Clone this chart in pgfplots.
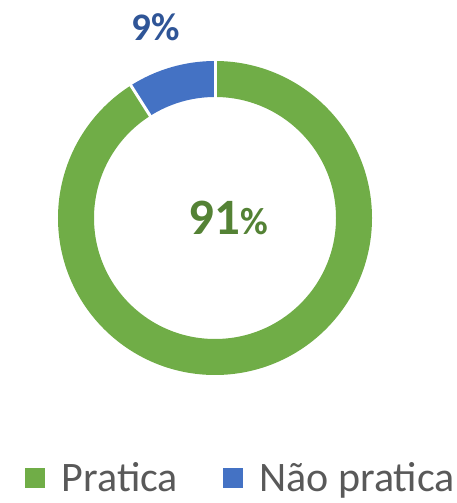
\documentclass[border=0pt]{standalone}
\usepackage{pgfplots}
\pgfplotsset{compat=1.18}
\usepackage{pgfplotstable}
\usepackage{fontspec}
\setmainfont{Carlito}
\definecolor{cgreen}{HTML}{70AD47}
\definecolor{cblue}{HTML}{4472C4}
\definecolor{dgreen}{HTML}{548235}
\definecolor{dblue}{HTML}{2F5597}
\definecolor{lgray}{HTML}{595959}
\pgfplotstableread{
label value
Pratica 91
NaoPratica 9
}\datatable
\pgfplotstablegetelem{0}{value}\of\datatable
\let\vP\pgfplotsretval
\pgfplotstablegetelem{1}{value}\of\datatable
\let\vN\pgfplotsretval
\begin{document}
\begin{tikzpicture}
\begin{axis}[
  scale only axis, width=457bp, height=503bp,
  xmin=0, xmax=457, ymin=0, ymax=503,
  hide axis, clip=false,
  legend columns=2,
  legend style={draw=none, fill=none, at={(axis cs:241,25)}, anchor=center,
    font=\fontsize{42bp}{44bp}\selectfont, text=lgray,
    /tikz/every odd column/.append style={column sep=15bp},
    /tikz/every even column/.append style={column sep=43bp},
    inner sep=0pt},
  legend image code/.code={\fill[#1] (0bp,-9.5bp) rectangle (19bp,9.5bp);},
]
\path (axis cs:0,0) rectangle (axis cs:457,503);
\pgfmathsetmacro\aP{\vP/100*360}
\pgfmathsetmacro\aN{\vN/100*360}
% Pratica slice (clockwise from top)
\draw[cgreen, line width=36bp] (axis cs:215,424) arc[start angle=90, end angle={90-\aP}, radius=139];
% Nao pratica slice
\pgfmathsetmacro\sx{215+139*cos(90-\aP)}
\pgfmathsetmacro\sy{285+139*sin(90-\aP)}
\draw[cblue, line width=36bp] (axis cs:\sx,\sy) arc[start angle={90-\aP}, end angle={90-\aP-\aN}, radius=139];
% separators
\pgfmathsetmacro\ix{215+119*cos(90-\aP)}
\pgfmathsetmacro\iy{285+119*sin(90-\aP)}
\pgfmathsetmacro\ox{215+159*cos(90-\aP)}
\pgfmathsetmacro\oy{285+159*sin(90-\aP)}
\draw[white, line width=3bp] (axis cs:215,404) -- (axis cs:215,444);
\draw[white, line width=3bp] (axis cs:\ix,\iy) -- (axis cs:\ox,\oy);
% data labels
\node[anchor=base, text=dblue, font=\fontsize{39bp}{40bp}\selectfont\bfseries, inner sep=0pt] at (axis cs:156,462.3) {\vN\%};
\node[anchor=base, text=dgreen, font=\bfseries, inner sep=0pt] at (axis cs:228,268)
  {{\fontsize{51bp}{52bp}\selectfont\vP}{\fontsize{38bp}{40bp}\selectfont\%}};
\addlegendimage{cgreen}
\addlegendentry{Pratica}
\addlegendimage{cblue}
\addlegendentry{Não pratica}
\end{axis}
\end{tikzpicture}
\end{document}
